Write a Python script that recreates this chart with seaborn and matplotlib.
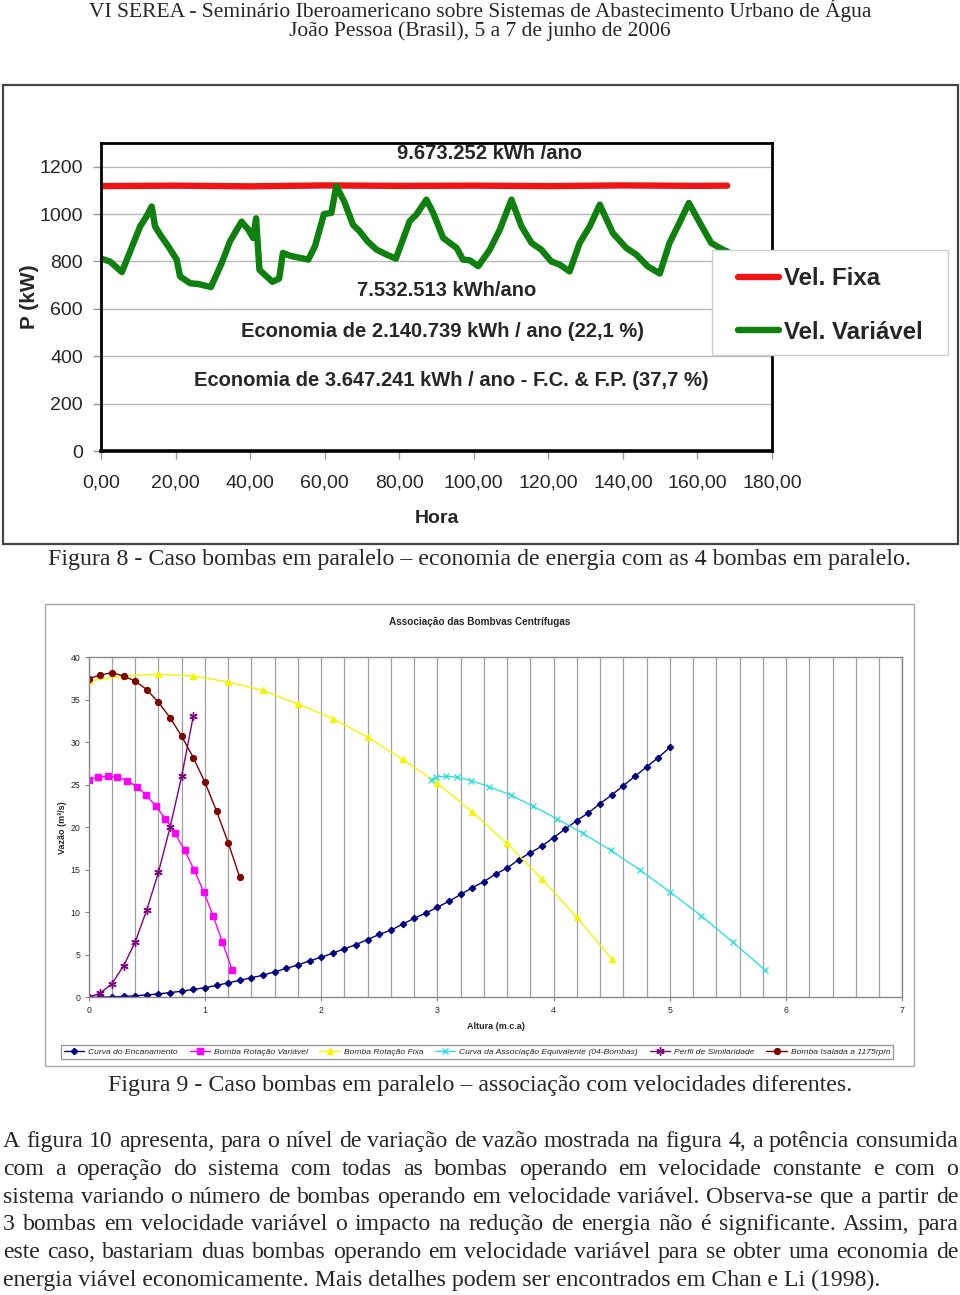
import numpy as np
import pandas as pd
import matplotlib.pyplot as plt
import seaborn as sns
from matplotlib.lines import Line2D
from matplotlib.patches import Rectangle

# %% dados - figura 8 (potencia x hora)
hora_fixa = [0, 20, 40, 60, 80, 100, 120, 140, 160, 168]
p_fixa = [1118, 1120, 1117, 1121, 1119, 1120, 1118, 1121, 1119, 1120]

hora_var = [0, 2.4, 5.6, 10.5, 12.2, 13.6, 14.5, 16, 18, 20.3,
            21.2, 23.9, 26, 29.5, 32.4, 34.6, 37.7, 39.5, 40.8, 41.6,
            42.5, 44.4, 46, 47.8, 48.8, 50.7, 53.4, 55.6, 57.4, 59.8,
            61.8, 63.1, 65.2, 67.6, 69.4, 71.5, 73.9, 76.6, 79.1, 82.8,
            84.6, 87.3, 89.1, 91.8, 95.4, 97.1, 98.9, 101.2, 104.3, 107,
            110.1, 112.8, 115.5, 118.1, 120.8, 123, 125.7, 128.4, 131.1, 133.8,
            137.3, 140.9, 143.6, 146.7, 149.9, 152.5, 155.2, 157.7, 160.6, 163.7,
            166.8, 168]
p_var = [812, 800, 755, 948, 990, 1032, 948, 910, 865, 808,
         737, 708, 705, 692, 794, 885, 968, 935, 899, 982,
         765, 737, 714, 728, 836, 824, 815, 808, 864, 1000,
         1005, 1118, 1055, 955, 927, 885, 850, 829, 812, 970,
         998, 1061, 1005, 899, 857, 808, 805, 780, 850, 935,
         1061, 948, 878, 850, 800, 787, 758, 878, 948, 1040,
         920, 857, 829, 779, 749, 878, 964, 1047, 964, 878,
         850, 842]

anotacoes = ['9.673.252 kWh /ano', '7.532.513 kWh/ano',
             'Economia de 2.140.739 kWh / ano (22,1 %)',
             'Economia de 3.647.241 kWh / ano - F.C. & F.P. (37,7 %)']
horas_ticks = [0, 20, 40, 60, 80, 100, 120, 140, 160, 180]

# %% dados - figura 9 (associacao das bombas)
alt_enc = [0, 0.1, 0.2, 0.3, 0.4, 0.5, 0.6, 0.7, 0.8, 0.9,
           1.0, 1.1, 1.2, 1.3, 1.4, 1.5, 1.6, 1.7, 1.8, 1.9,
           2.0, 2.1, 2.2, 2.3, 2.4, 2.5, 2.6, 2.7, 2.8, 2.9,
           3.0, 3.1, 3.2, 3.3, 3.4, 3.5, 3.6, 3.7, 3.8, 3.9,
           4.0, 4.1, 4.2, 4.3, 4.4, 4.5, 4.6, 4.7, 4.8, 4.9, 5.0]
vaz_enc = [0, 0.01, 0.05, 0.1, 0.18, 0.28, 0.4, 0.55, 0.72, 0.92,
           1.13, 1.4, 1.7, 2.0, 2.3, 2.6, 3.0, 3.4, 3.8, 4.3,
           4.7, 5.2, 5.7, 6.2, 6.8, 7.4, 7.9, 8.6, 9.3, 9.9,
           10.6, 11.3, 12.1, 12.9, 13.6, 14.5, 15.2, 16.2, 17.0, 17.8,
           18.8, 19.8, 20.8, 21.7, 22.8, 23.8, 24.9, 26.0, 27.1, 28.2, 29.4]

alt_var = [0, 0.082, 0.165, 0.247, 0.33, 0.412, 0.495, 0.577,
           0.66, 0.742, 0.825, 0.907, 0.99, 1.07, 1.15, 1.235]
vaz_var = [25.6, 25.9, 26.0, 25.9, 25.5, 24.8, 23.8, 22.5,
           21.0, 19.3, 17.3, 15.0, 12.4, 9.6, 6.5, 3.2]

alt_fixa = [0, 0.3, 0.6, 0.9, 1.2, 1.5, 1.8, 2.1, 2.4, 2.7, 3.0, 3.3, 3.6, 3.9, 4.2, 4.5]
vaz_fixa = [37.2, 37.8, 38.0, 37.8, 37.1, 36.1, 34.5, 32.8, 30.6, 28.0, 25.2, 21.8, 18.1, 13.9, 9.4, 4.5]

alt_assoc = [2.946, 2.99, 3.07, 3.165, 3.29, 3.44, 3.63, 3.82,
             4.03, 4.25, 4.49, 4.74, 5.0, 5.27, 5.54, 5.82]
vaz_assoc = [25.6, 25.9, 26.0, 25.9, 25.5, 24.8, 23.8, 22.5,
             21.0, 19.3, 17.3, 15.0, 12.4, 9.6, 6.5, 3.2]

alt_sim = [0, 0.1, 0.2, 0.3, 0.4, 0.5, 0.6, 0.7, 0.8, 0.9]
vaz_sim = [0, 0.5, 1.6, 3.7, 6.5, 10.3, 14.7, 20.0, 26.0, 33.1]

alt_iso = [0, 0.1, 0.2, 0.3, 0.4, 0.5, 0.6, 0.7, 0.8, 0.9, 1.0, 1.1, 1.2, 1.3]
vaz_iso = [37.5, 37.9, 38.2, 37.8, 37.2, 36.2, 34.7, 32.9, 30.7, 28.2, 25.3, 21.9, 18.2, 14.1]

series9 = ['Curva do Encanamento', 'Bomba Rotação Variável', 'Bomba Rotação Fixa',
           'Curva da Associação Equivalente (04-Bombas)', 'Perfil de Similaridade',
           'Bomba Isalada a 1175rpm']

paragrafo = [
    'A figura 10 apresenta, para o nível de variação de vazão mostrada na figura 4, a potência consumida',
    'com a operação do sistema com todas as bombas operando em velocidade constante e com o',
    'sistema variando o número de bombas operando em velocidade variável. Observa-se que a partir de',
    '3 bombas em velocidade variável o impacto na redução de energia não é significante. Assim, para',
    'este caso, bastariam duas bombas operando em velocidade variável para se obter uma economia de',
    'energia viável economicamente. Mais detalhes podem ser encontrados em Chan e Li (1998).',
]

# %%
sns.set_style('white')
plt.rcParams['font.family'] = ['Liberation Sans', 'DejaVu Sans']
SERIF = ['Liberation Serif', 'DejaVu Serif']

W, H = 960, 1295
fig = plt.figure(figsize=(W / 100, H / 100), dpi=100)


def fx(px):
    return px / W


def fy(py):
    return 1 - py / H


# cabecalho
fig.text(fx(480), fy(10), 'VI SEREA - Seminário Iberoamericano sobre Sistemas de Abastecimento Urbano de Água',
         ha='center', va='center', family=SERIF, fontsize=15.5)
fig.text(fx(480), fy(31), 'João Pessoa (Brasil), 5 a 7 de junho de 2006',
         ha='center', va='center', family=SERIF, fontsize=15.5)

# %% figura 8
fig.add_artist(Rectangle((fx(3), fy(544)), fx(955), 459 / H, transform=fig.transFigure,
                         fill=False, edgecolor='#444444', lw=1.6))

ax1 = fig.add_axes([fx(101), fy(451), fx(671), 308 / H])
red, green = '#ef1515', '#0d800d'
sns.lineplot(x=hora_fixa, y=p_fixa, ax=ax1, color=red, lw=4.6, solid_capstyle='round')
sns.lineplot(x=hora_var, y=p_var, ax=ax1, color=green, lw=4.6,
             solid_capstyle='round', solid_joinstyle='round')

ax1.set_xlim(0, 180)
ax1.set_ylim(0, 1300)
ax1.set_xticks(horas_ticks)
ax1.set_xticklabels([f'{h},00' for h in horas_ticks])
ax1.set_yticks(range(0, 1201, 200))
ax1.yaxis.grid(True, color='#b8b8b8', lw=1)
ax1.set_axisbelow(True)
for sp in ax1.spines.values():
    sp.set_color('black')
    sp.set_linewidth(2)
ax1.spines['bottom'].set_linewidth(2.6)
ax1.tick_params(axis='both', length=6, width=1, color='#999999', labelsize=14, direction='out',
                bottom=True, left=True)
ax1.tick_params(axis='x', pad=11)
ax1.tick_params(axis='y', pad=7)

ax1.set_ylabel('P (kW)', fontsize=15, fontweight='bold')
ax1.yaxis.set_label_coords(-0.092, 0.5)
ax1.set_xlabel('Hora', fontsize=14, fontweight='bold')
ax1.xaxis.set_label_coords(0.5, -0.19)

pos_txt = [(104.3, 1255), (92.8, 676), (91.5, 503), (93.9, 296)]
for (tx, ty), s in zip(pos_txt, anotacoes):
    ax1.text(tx, ty, s, ha='center', va='center', fontsize=14.5, fontweight='bold')

fig.add_artist(Rectangle((fx(712), fy(355)), fx(236), 105 / H, transform=fig.transFigure,
                         facecolor='white', edgecolor='#cfcfcf', lw=1, zorder=4))
leg1 = fig.legend(handles=[Line2D([], [], color=red, lw=4.6), Line2D([], [], color=green, lw=4.6)],
                  labels=['Vel. Fixa', 'Vel. Variável'], loc='upper left',
                  bbox_to_anchor=(fx(738), fy(267)), frameon=False, borderpad=0,
                  borderaxespad=0, handlelength=1.7, handletextpad=0.2, labelspacing=1.27,
                  prop={'size': 17.3, 'weight': 'bold'})
leg1.set_zorder(5)

fig.text(fx(480), fy(560), 'Figura 8 - Caso bombas em paralelo – economia de energia com as 4 bombas em paralelo.',
         ha='center', va='center', family=SERIF, fontsize=17.2)

# %% figura 9
fig.add_artist(Rectangle((fx(45), fy(1066)), fx(869), 462 / H, transform=fig.transFigure,
                         fill=False, edgecolor='#a8a8a8', lw=1))

ax2 = fig.add_axes([fx(88.7), fy(997.3), fx(813.6), 340 / H])
estilos = [
    (alt_enc, vaz_enc, '#000080', 'D', 3.2),
    (alt_var, vaz_var, '#ff00ff', 's', 4.2),
    (alt_fixa, vaz_fixa, '#f5f500', '^', 4.5),
    (alt_assoc, vaz_assoc, '#33e0e0', 'x', 4.5),
    (alt_sim, vaz_sim, '#800080', (6, 2, 0), 6),
    (alt_iso, vaz_iso, '#800000', 'o', 4.2),
]
handles = []
for (xs, ys, c, m, ms), nome in zip(estilos, series9):
    sns.lineplot(x=xs, y=ys, ax=ax2, color=c, lw=1, marker=m, markersize=ms,
                 markeredgecolor=c, markerfacecolor=c, markeredgewidth=1)
    handles.append(Line2D([], [], color=c, lw=1, marker=m, markersize=ms,
                          markeredgecolor=c, markerfacecolor=c))

ax2.set_xlim(0, 7)
ax2.set_ylim(0, 40)
ax2.set_xticks(range(0, 8))
ax2.set_xticks(np.arange(0, 7.01, 0.2), minor=True)
ax2.set_yticks(range(0, 41, 5))
ax2.grid(axis='x', which='both', color='#a0a0a0', lw=0.9)
ax2.set_axisbelow(True)
for sp in ax2.spines.values():
    sp.set_color('#8a8a8a')
    sp.set_linewidth(1)
ax2.tick_params(axis='both', which='major', length=3, color='#8a8a8a', labelsize=6.3, pad=3,
                bottom=True, left=True)
ax2.tick_params(axis='x', which='minor', length=0)

ax2.set_ylabel('Vazão (m³/s)', fontsize=6.5, fontweight='bold')
ax2.yaxis.set_label_coords(-0.027, 0.5)
ax2.set_xlabel('Altura (m.c.a)', fontsize=6.5, fontweight='bold')
ax2.xaxis.set_label_coords(0.5, -0.072)

fig.text(fx(480), fy(622), 'Associação das Bombvas Centrífugas', ha='center', va='center',
         fontsize=7.2, fontweight='bold')

fig.legend(handles=handles, labels=series9, loc='center', bbox_to_anchor=(fx(477), fy(1052)),
           ncol=6, frameon=True, fancybox=False, edgecolor='#9a9a9a', framealpha=1,
           prop={'size': 6.1, 'style': 'italic'}, handlelength=2.4, handletextpad=0.45,
           columnspacing=1.4, borderpad=0.35)

fig.text(fx(480), fy(1085), 'Figura 9 - Caso bombas em paralelo – associação com velocidades diferentes.',
         ha='center', va='center', family=SERIF, fontsize=17.2)

# %% paragrafo justificado
renderer = fig.canvas.get_renderer()
for i, linha in enumerate(paragrafo):
    base = fy([1147, 1175, 1203, 1230, 1258, 1286][i])
    if i == len(paragrafo) - 1:
        fig.text(fx(3), base, linha, ha='left', va='baseline', family=SERIF, fontsize=17.1)
        continue
    palavras = linha.split(' ')
    txts = [fig.text(0, base, p, ha='left', va='baseline', family=SERIF, fontsize=17.1) for p in palavras]
    larg = [t.get_window_extent(renderer).width for t in txts]
    gap = (955 - sum(larg)) / (len(palavras) - 1)
    x = 3
    for t, w in zip(txts, larg):
        t.set_x(fx(x))
        x += w + gap

plt.savefig('out.png', dpi=100)
